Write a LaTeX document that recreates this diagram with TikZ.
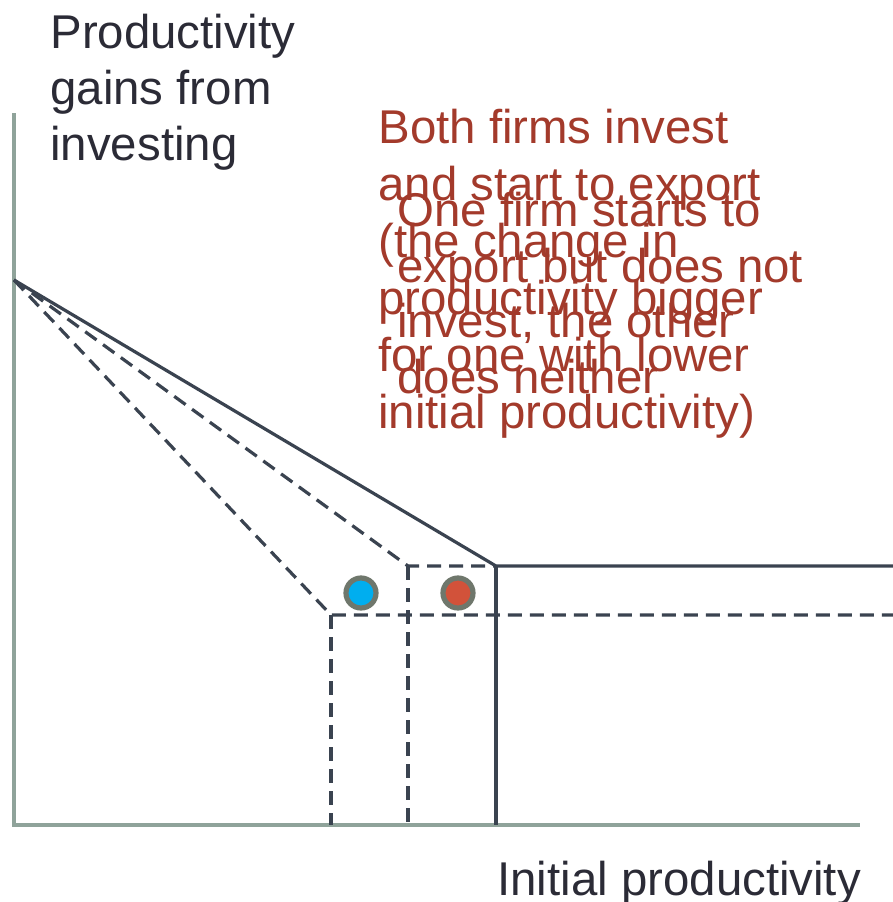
\documentclass[tikz,border=0pt]{standalone}
\usepackage{fontspec}
\setmainfont{Liberation Sans}
\usepackage{tikz}
\usetikzlibrary{positioning}
\definecolor{axgrey}{HTML}{8FA39A}
\definecolor{ldark}{HTML}{3A4350}
\definecolor{tdark}{HTML}{2B2B36}
\definecolor{tred}{HTML}{A33A2B}
\definecolor{fblue}{HTML}{00AEEF}
\definecolor{fred}{HTML}{D2523A}
\definecolor{ring}{HTML}{6F776C}
\tikzset{ax/.style={draw=axgrey,line width=2.2pt},
 sol/.style={draw=ldark,line width=1.6pt},
 dsh/.style={draw=ldark,line width=1.6pt,dash pattern=on 7pt off 4pt},
 lbl/.style={inner sep=0pt,align=left,font=\fontsize{23.7}{28}\selectfont},
 firm/.style={circle,draw=ring,line width=2.6pt,minimum size=15pt,inner sep=0pt}}

\begin{document}
\begin{tikzpicture}[x=0.5pt,y=-0.5pt]
\useasboundingbox (0,0) rectangle (893,902);
% axes
\coordinate (o) at (14,825);\coordinate (ytop) at (14,113);\coordinate (xend) at (860,825);
\draw[ax](ytop)--(o)--(xend);
% gains schedules
\coordinate (g0) at (14,280);
\coordinate (k) at (496,566);\coordinate (ka) at (408,566);\coordinate (kb) at (331,615);
\coordinate (kr) at (893,566);\coordinate (kbr) at (893,615);
\coordinate (kx) at (496,825);\coordinate (kax) at (408,825);\coordinate (kbx) at (331,825);
\draw[dsh](g0)--(kb)--(kbr);\draw[dsh](kb)--(kbx);
\draw[dsh](g0)--(ka)--(k);\draw[dsh](ka)--(kax);
\draw[sol](g0)--(k)--(kr);\draw[sol](k)--(kx);
% firms
\node[firm,fill=fblue](f1) at (361,593){};
\node[firm,fill=fred](f2) at (458,593){};
% labels (base = last line)
\node[lbl,text=tdark,anchor=base west](ylab) at (50,160){Productivity\\gains from\\investing};
\node[lbl,text=tdark,anchor=base west](xlab) at (497,895){Initial productivity};
\node[lbl,text=tred,anchor=base west,font=\fontsize{23.7}{28.5}\selectfont](both) at (378,428){Both firms invest\\and start to export\\(the change in\\productivity bigger\\for one with lower\\initial productivity)};
\node[lbl,text=tred,anchor=base west,font=\fontsize{23.7}{27.7}\selectfont](one) at (397,393){One firm starts to\\export but does not\\invest, the other\\does neither};
\end{tikzpicture}
\end{document}
